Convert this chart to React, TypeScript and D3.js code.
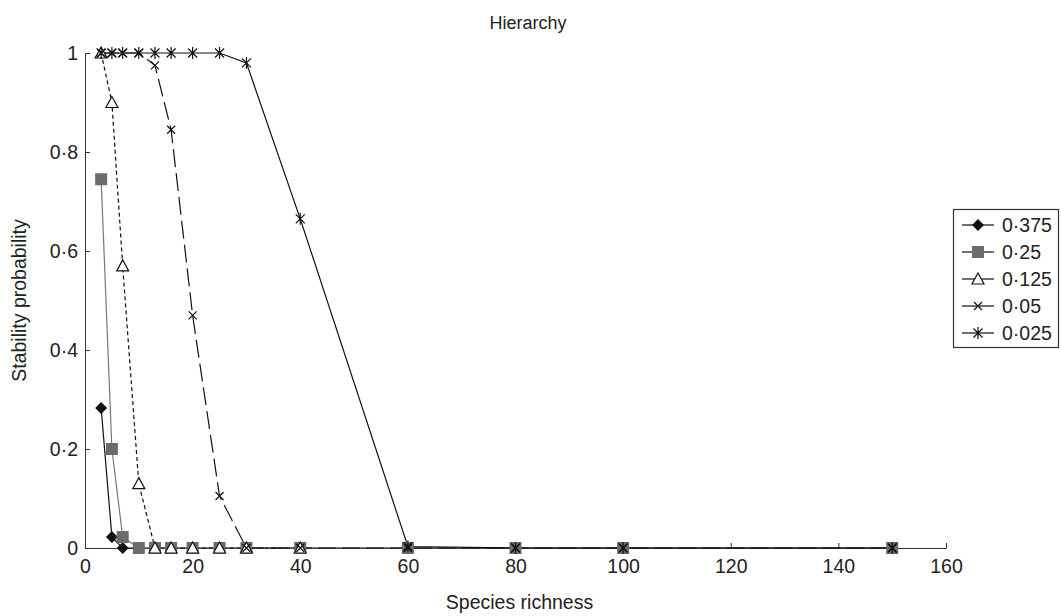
import React, { useEffect, useRef } from 'react';
import * as d3 from 'd3';

// Species richness values sampled
const richness = [3, 5, 7, 10, 13, 16, 20, 25, 30, 40, 60, 80, 100, 150];

const s0375 = [0.283, 0.022, 0, 0, 0, 0, 0, 0, 0, 0, 0, 0, 0, 0];
const s025 = [0.745, 0.2, 0.022, 0, 0, 0, 0, 0, 0, 0, 0, 0, 0, 0];
// 0.125 series only sampled up to richness 40
const s0125 = [1, 0.9, 0.57, 0.13, 0, 0, 0, 0, 0, 0];
const s005 = [1, 1, 1, 1, 0.975, 0.845, 0.47, 0.105, 0, 0, 0, 0, 0, 0];
const s0025 = [1, 1, 1, 1, 1, 1, 1, 1, 0.98, 0.665, 0.003, 0, 0, 0];

const seriesNames = ['0·375', '0·25', '0·125', '0·05', '0·025'];
const seriesValues = [s0375, s025, s0125, s005, s0025];

const xTicks = [0, 20, 40, 60, 80, 100, 120, 140, 160];
const yTicks = [0, 0.2, 0.4, 0.6, 0.8, 1];
const yTickLabels = ['0', '0·2', '0·4', '0·6', '0·8', '1'];

type MarkerKind = 'diamond' | 'square' | 'triangle' | 'cross' | 'star';

const styles: { marker: MarkerKind; stroke: string; dash: string | null; width: number }[] = [
  { marker: 'diamond', stroke: '#111', dash: null, width: 1.2 },
  { marker: 'square', stroke: '#777', dash: null, width: 1.2 },
  { marker: 'triangle', stroke: '#111', dash: '4,3', width: 1.2 },
  { marker: 'cross', stroke: '#111', dash: '18,6', width: 1.2 },
  { marker: 'star', stroke: '#111', dash: null, width: 1.2 }
];

const drawMarker = (
  g: d3.Selection<SVGGElement, unknown, null, undefined>,
  kind: MarkerKind,
  cx: number,
  cy: number
) => {
  if (kind === 'diamond') {
    g.append('path')
      .attr('d', `M${cx},${cy - 6}L${cx + 6},${cy}L${cx},${cy + 6}L${cx - 6},${cy}Z`)
      .attr('fill', '#111');
  } else if (kind === 'square') {
    g.append('rect')
      .attr('x', cx - 6).attr('y', cy - 6)
      .attr('width', 12).attr('height', 12)
      .attr('fill', '#6b6b6b');
  } else if (kind === 'triangle') {
    g.append('path')
      .attr('d', `M${cx},${cy - 6}L${cx + 6},${cy + 5}L${cx - 6},${cy + 5}Z`)
      .attr('fill', '#fff')
      .attr('stroke', '#111')
      .attr('stroke-width', 1.2);
  } else if (kind === 'cross') {
    g.append('path')
      .attr('d', `M${cx - 4},${cy - 4}L${cx + 4},${cy + 4}M${cx - 4},${cy + 4}L${cx + 4},${cy - 4}`)
      .attr('stroke', '#111')
      .attr('stroke-width', 1.2);
  } else {
    g.append('path')
      .attr('d', `M${cx - 4.5},${cy - 4.5}L${cx + 4.5},${cy + 4.5}M${cx - 4.5},${cy + 4.5}L${cx + 4.5},${cy - 4.5}M${cx},${cy - 6}L${cx},${cy + 6}`)
      .attr('stroke', '#111')
      .attr('stroke-width', 1.2);
  }
};

const App: React.FC = () => {
  const svgRef = useRef<SVGSVGElement>(null);

  useEffect(() => {
    if (!svgRef.current) return;
    document.body.style.margin = '0';
    const W = 1061;
    const H = 616;
    const margin = { top: 53, left: 85, right: 115, bottom: 68 };
    const fs = '19.5px';

    d3.select(svgRef.current).selectAll('*').remove();
    const svg = d3.select(svgRef.current)
      .attr('width', W)
      .attr('height', H)
      .style('display', 'block')
      .style('font-family', '"Liberation Sans", Arial, sans-serif');

    const x = d3.scaleLinear().domain([0, 160]).range([margin.left, W - margin.right]);
    const y = d3.scaleLinear().domain([0, 1]).range([H - margin.bottom, margin.top]);

    // Axes (ticks inward)
    const xAxis = svg.append('g')
      .attr('transform', `translate(0,${y(0)})`)
      .call(d3.axisBottom(x).tickValues(xTicks).tickSizeInner(-5).tickSizeOuter(0).tickPadding(11));
    xAxis.select('.domain').attr('stroke', '#333');
    xAxis.selectAll('line').attr('stroke', '#333');
    xAxis.selectAll('text').style('font-size', fs).attr('fill', '#222');

    const yAxis = svg.append('g')
      .attr('transform', `translate(${x(0)},0)`)
      .call(d3.axisLeft(y).tickValues(yTicks).tickFormat((_d, i) => yTickLabels[i]).tickSizeInner(-5).tickSizeOuter(0).tickPadding(7));
    yAxis.select('.domain').attr('stroke', '#333');
    yAxis.selectAll('line').attr('stroke', '#333');
    yAxis.selectAll('text').style('font-size', fs).attr('fill', '#222');

    // Lines
    const line = d3.line<number>()
      .x((_d, i) => x(richness[i]))
      .y(d => y(d));

    seriesValues.forEach((vals, k) => {
      const st = styles[k];
      svg.append('path')
        .datum(vals)
        .attr('d', line)
        .attr('fill', 'none')
        .attr('stroke', st.stroke)
        .attr('stroke-width', st.width)
        .attr('stroke-dasharray', st.dash);
    });

    // Markers
    seriesValues.forEach((vals, k) => {
      const g = svg.append('g');
      vals.forEach((v, i) => drawMarker(g, styles[k].marker, x(richness[i]), y(v)));
    });

    // Title and axis labels
    svg.append('text')
      .attr('x', 528).attr('y', 29)
      .attr('text-anchor', 'middle')
      .style('font-size', '18px')
      .attr('fill', '#222')
      .text('Hierarchy');

    svg.append('text')
      .attr('x', (x(0) + x(160)) / 2 + 4).attr('y', 609)
      .attr('text-anchor', 'middle')
      .style('font-size', fs)
      .attr('fill', '#222')
      .text('Species richness');

    svg.append('text')
      .attr('transform', `translate(26,${(y(0) + y(1)) / 2}) rotate(-90)`)
      .attr('text-anchor', 'middle')
      .style('font-size', fs)
      .attr('fill', '#222')
      .text('Stability probability');

    // Legend
    const lg = svg.append('g');
    lg.append('rect')
      .attr('x', 953.5).attr('y', 209.5)
      .attr('width', 105).attr('height', 138)
      .attr('fill', '#fff')
      .attr('stroke', '#333')
      .attr('stroke-width', 1.2);
    seriesNames.forEach((name, k) => {
      const ly = 225 + k * 27;
      lg.append('line')
        .attr('x1', 962).attr('x2', 994)
        .attr('y1', ly).attr('y2', ly)
        .attr('stroke', '#111')
        .attr('stroke-width', 1.2);
      drawMarker(lg, styles[k].marker, 978, ly);
      lg.append('text')
        .attr('x', 1002).attr('y', ly)
        .attr('dy', '0.35em')
        .style('font-size', fs)
        .attr('fill', '#222')
        .text(name);
    });
  }, []);

  return <svg ref={svgRef}></svg>;
};

export default App;
